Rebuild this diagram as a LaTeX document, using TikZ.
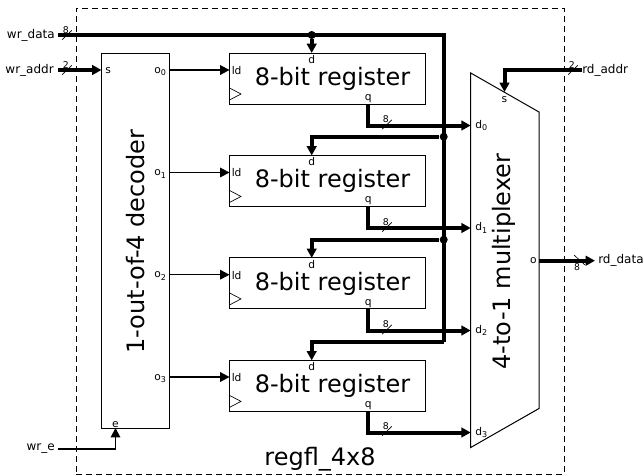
\documentclass[tikz,border=0pt]{standalone}
\usepackage{fontspec}
\setmainfont{DejaVu Sans}
\usetikzlibrary{positioning}
\usetikzlibrary{calc}
\usetikzlibrary{arrows.meta}
\tikzset{
    % Solid triangular heads, the same on thin wires and on buses
    >={Triangle[length=7pt, width=7.2pt]},
%
    % Plain boxes for the decoder and the registers
    block/.style={draw, rectangle, line width=.75pt, outer sep=0, inner sep=0},
    register/.style={block, minimum width=147pt, minimum height=38.25pt,
        font=\fontsize{18}{18}\selectfont,
        execute at begin node=\hspace*{7.5pt}},
%
    % Thin control wires and thick data buses
    wire/.style={line width=.9pt},
    bus/.style={line width=3pt},
    junction/.style={circle, fill=black, inner sep=0, minimum size=6pt},
%
    % Texts: pins inside the blocks, ports outside, big block names
    pinlabel/.style={inner sep=0, font=\fontsize{8}{8}\selectfont},
    portlabel/.style={inner sep=0, font=\fontsize{9}{9}\selectfont},
    widthlabel/.style={inner sep=0, font=\fontsize{7}{7}\selectfont},
    blockname/.style={inner sep=0, font=\fontsize{18}{18}\selectfont}}
% Short slash across a bus with its width above it
\newcommand{\bustick}[2]{
    \draw[line width=.5pt] ($(#1)+(-4.7,4.6)$) -- ($(#1)+(4.7,-4.6)$);
    \node[widthlabel] (#1 width) at ($(#1)+(-1.2,-5)$) {#2};}
% Clock wedge in the corner of a register
\newcommand{\clockmark}[1]{
    \draw[line width=.5pt] ($(#1.south west)+(0,-16)$)
        -- ($(#1.south west)+(11.5,-10)$) -- ($(#1.south west)+(0,-4)$);}

\begin{document}
\begin{tikzpicture}[x=.75pt, y=-.75pt]
\useasboundingbox (0,0) rectangle (644,475);

% Dashed outline of the whole register file
\node[draw, dash pattern=on 4.5pt off 3pt, line width=.75pt, rectangle,
    minimum width=366pt, minimum height=349.5pt, outer sep=0, inner sep=0]
    (regfl) at (320,241) {};
\node[blockname] (regfl name) at (320,459.5) {regfl\_4x8};

% The decoder on the left
\node[block, minimum width=51pt, minimum height=281.25pt]
    (decoder) at (135.5,240.5) {};
\node[blockname, rotate=90] (decoder name) at (136,241.5) {1-out-of-4 decoder};
\node[pinlabel, anchor=west] (dec s) at (105,70.5) {s};
\node[pinlabel, anchor=south] (dec e) at (115.5,428) {e};

% Stack of the four registers
\node[register] (reg0) at (327.5,78.5) {8-bit register};
\node[register, below=38.6pt of reg0] (reg1) {8-bit register};
\node[register, below=38.6pt of reg1] (reg2) {8-bit register};
\node[register, below=38.6pt of reg2] (reg3) {8-bit register};
\clockmark{reg0}
\clockmark{reg1}
\clockmark{reg2}
\clockmark{reg3}

% Outputs of the decoder and load pins
\node[pinlabel, anchor=east] (o0) at (167,71.5) {o\textsubscript{0}};
\node[pinlabel, anchor=east] (o1) at (167,174) {o\textsubscript{1}};
\node[pinlabel, anchor=east] (o2) at (167,276) {o\textsubscript{2}};
\node[pinlabel, anchor=east] (o3) at (167,378.5) {o\textsubscript{3}};
\node[pinlabel, anchor=west] (ld0) at ($(reg0.west)+(2,-8)$) {ld};
\node[pinlabel, anchor=west] (ld1) at ($(reg1.west)+(2,-8)$) {ld};
\node[pinlabel, anchor=west] (ld2) at ($(reg2.west)+(2,-8)$) {ld};
\node[pinlabel, anchor=west] (ld3) at ($(reg3.west)+(2,-8)$) {ld};
\draw[wire,->] (decoder.east |- 0,70) -- (reg0.west |- 0,70);
\draw[wire,->] (decoder.east |- 0,172.5) -- (reg1.west |- 0,172.5);
\draw[wire,->] (decoder.east |- 0,274.7) -- (reg2.west |- 0,274.7);
\draw[wire,->] (decoder.east |- 0,377) -- (reg3.west |- 0,377);

% Data and q pins of the registers
\node[pinlabel, anchor=north] (d0) at ($(reg0.north)+(-15.8,2)$) {d};
\node[pinlabel, anchor=north] (d1) at ($(reg1.north)+(-15.8,2)$) {d};
\node[pinlabel, anchor=north] (d2) at ($(reg2.north)+(-15.8,2)$) {d};
\node[pinlabel, anchor=north] (d3) at ($(reg3.north)+(-15.8,2)$) {d};
\node[pinlabel, anchor=south] (q0) at ($(reg0.south)+(40.8,-1)$) {q};
\node[pinlabel, anchor=south] (q1) at ($(reg1.south)+(40.8,-1)$) {q};
\node[pinlabel, anchor=south] (q2) at ($(reg2.south)+(40.8,-1)$) {q};
\node[pinlabel, anchor=south] (q3) at ($(reg3.south)+(40.8,-1)$) {q};

% The multiplexer, a box with its corners cut
\coordinate (mux nw) at (470.7,73);
\coordinate (mux ne) at (539,112);
\coordinate (mux se) at (539,408.5);
\coordinate (mux sw) at (470.7,447.5);
\draw[line width=.75pt] (mux nw) -- (mux ne) -- (mux se) -- (mux sw) -- cycle;
\node[blockname, rotate=90] (mux name) at (504,261.5) {4-to-1 multiplexer};
\node[pinlabel, anchor=west] (mux d0) at (475,125.5) {d\textsubscript{0}};
\node[pinlabel, anchor=west] (mux d1) at (475,228) {d\textsubscript{1}};
\node[pinlabel, anchor=west] (mux d2) at (475,330.5) {d\textsubscript{2}};
\node[pinlabel, anchor=west] (mux d3) at (475,432.5) {d\textsubscript{3}};
\node[pinlabel] (mux s) at (504.5,100) {s};
\node[pinlabel, anchor=east] (mux o) at (537,261) {o};

% Ports
\node[portlabel, anchor=east] (wr data) at (55,35) {wr\_data};
\node[portlabel, anchor=east] (wr addr) at (54,70) {wr\_addr};
\node[portlabel, anchor=east] (wr e) at (55,449) {wr\_e};
\node[portlabel, anchor=west] (rd addr) at (582,70) {rd\_addr};
\node[portlabel, anchor=west] (rd data) at (598,260.5) {rd\_data};
\coordinate (wr data end) at (58,35);
\coordinate (wr addr end) at (58,70);
\coordinate (wr e end) at (58,449);
\coordinate (rd data end) at (595,260.7);

% Write data bus running round the registers
\coordinate (data ne) at (443.7,35);
\coordinate (data se) at (443.7,341.7);
\coordinate (tap1) at (443.7,136.7);
\coordinate (tap2) at (443.7,239.7);
\node[junction] (tap0 dot) at (d0 |- wr data) {};
\node[junction] (tap1 dot) at (tap1) {};
\node[junction] (tap2 dot) at (tap2) {};
\draw[bus] (wr data end) -- (data ne) -- (data se);
\draw[bus,->] (tap0 dot) -- (d0 |- reg0.north);
\draw[bus,->] (tap1 dot) -- (d1 |- tap1) -- (d1 |- reg1.north);
\draw[bus,->] (tap2 dot) -- (d2 |- tap2) -- (d2 |- reg2.north);
\draw[bus,->] (data se) -- (d3 |- data se) -- (d3 |- reg3.north);

% Register outputs into the multiplexer
\draw[bus,->] (q0 |- reg0.south) -- (q0 |- mux d0) -- (mux nw |- mux d0);
\draw[bus,->] (q1 |- reg1.south) -- (q1 |- mux d1) -- (mux nw |- mux d1);
\draw[bus,->] (q2 |- reg2.south) -- (q2 |- mux d2) -- (mux nw |- mux d2);
\draw[bus,->] (q3 |- reg3.south) -- (q3 |- mux d3) -- (mux nw |- mux d3);

% Remaining ports
\draw[bus,->] (wr addr end) -- (decoder.west |- wr addr end);
\draw[wire,->] (wr e end) -- (dec e |- wr e end) -- (dec e |- decoder.south);
\draw[bus,->] (rd addr.west) -- (mux s |- rd addr) -- (mux s |- 0,92);
\draw[bus,->] (mux se |- rd data end) -- (rd data end);

% Bus widths
\coordinate (t data) at (67,35);
\coordinate (t addr) at (67,70);
\coordinate (t rd) at (573,70);
\coordinate (t q0) at (387,124.5);
\coordinate (t q1) at (387,227);
\coordinate (t q2) at (387,329.5);
\coordinate (t q3) at (387,431);
\bustick{t data}{8}
\bustick{t addr}{2}
\bustick{t rd}{2}
\bustick{t q0}{8}
\bustick{t q1}{8}
\bustick{t q2}{8}
\bustick{t q3}{8}
\draw[line width=.5pt] (574,255) -- (585,265);
\node[widthlabel] (rd width) at (577,267) {8};

\end{tikzpicture}
\end{document}
